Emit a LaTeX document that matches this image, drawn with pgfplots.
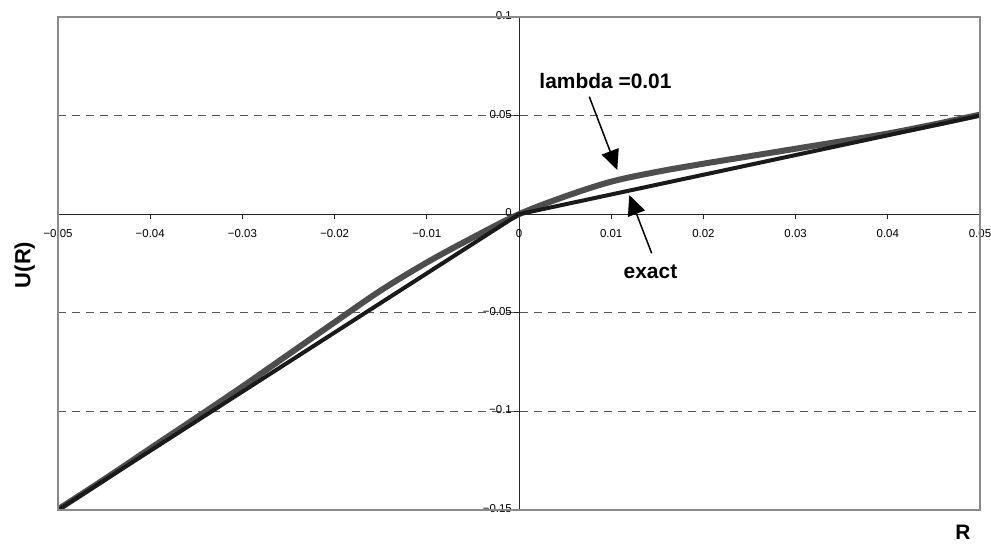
\documentclass[border=0pt]{standalone}
\usepackage{pgfplots}
\pgfplotsset{compat=1.18}
\usepackage{fontspec}
\setmainfont{Liberation Sans}
\usetikzlibrary{arrows.meta}
\definecolor{lamgray}{HTML}{4E4E4E}
\definecolor{exactblack}{HTML}{1A1A1A}
\definecolor{framegray}{HTML}{8A8A8A}
\begin{document}
\begin{tikzpicture}
\path[use as bounding box] (0,0) rectangle (991bp,544bp);
\begin{axis}[
  at={(58bp,34bp)}, anchor=south west,
  width=922bp, height=493bp, scale only axis,
  xmin=-0.05, xmax=0.05, ymin=-0.15, ymax=0.1,
  clip mode=individual,
  axis lines=middle,
  axis line style={black!85, line width=0.9bp, -},
  scaled x ticks=false, scaled y ticks=false,
  xtick={-0.05,-0.04,-0.03,-0.02,-0.01,0,0.01,0.02,0.03,0.04,0.05},
  xticklabels={−0.05,−0.04,−0.03,−0.02,−0.01,0,0.01,0.02,0.03,0.04,0.05},
  ytick={-0.1,-0.05,0,0.05},
  yticklabels={−0.1,−0.05,0,0.05},
  extra y ticks={-0.15,0.1},
  extra y tick labels={−0.15,0.1},
  extra y tick style={grid=none},
  tick style={black!85, line width=0.9bp},
  major tick length=5bp,
  tick align=outside,
  hide obscured x ticks=false, hide obscured y ticks=false,
  ymajorgrids,
  grid style={black!65, line width=0.8bp, dash pattern=on 8bp off 6bp},
  ticklabel style={font=\fontsize{11.5}{12}\selectfont, inner sep=0pt},
  xticklabel style={anchor=north, yshift=-10bp},
  yticklabel style={anchor=east, xshift=-2bp, yshift=1.5bp},
]
\addplot[lamgray, line width=6bp, line join=round, smooth, tension=0.55] coordinates {
(-0.05,-0.1497) (-0.045,-0.1345) (-0.04,-0.1188) (-0.035,-0.1032)
(-0.03,-0.0874) (-0.025,-0.0711) (-0.02,-0.0548) (-0.015,-0.0387)
(-0.01,-0.0245) (-0.005,-0.0118) (0,0) (0.005,0.0090) (0.01,0.0165)
(0.015,0.0215) (0.02,0.0256) (0.025,0.0294) (0.03,0.0332)
(0.035,0.0370) (0.04,0.0409) (0.045,0.0455) (0.05,0.0505)};
\addplot[exactblack, line width=4bp, line join=round] coordinates {
(-0.05,-0.15) (-0.04,-0.12) (-0.03,-0.09) (-0.02,-0.06) (-0.01,-0.03)
(0,0) (0.01,0.01) (0.02,0.02) (0.03,0.03) (0.04,0.04) (0.05,0.05)};
\draw[framegray, line width=2bp] (rel axis cs:0,0) rectangle (rel axis cs:1,1);
\node[font=\fontsize{21}{24}\selectfont\bfseries, anchor=base, inner sep=0pt]
  at (axis cs:0.00938,0.0638) {lambda =0.01};
\draw[black, line width=1.5bp, -{Triangle[length=20bp,width=18bp]}]
  (axis cs:0.00762,0.0596) -- (axis cs:0.01066,0.0224);
\node[font=\fontsize{21}{24}\selectfont\bfseries, anchor=base, inner sep=0pt]
  at (axis cs:0.01426,-0.0325) {exact};
\draw[black, line width=1.5bp, -{Triangle[length=20bp,width=18bp]}]
  (axis cs:0.01439,-0.0198) -- (axis cs:0.01196,0.0097);
\node[rotate=90, font=\fontsize{22}{24}\selectfont\bfseries, inner sep=0pt]
  at (rel axis cs:-0.036,0.497) {U(R)};
\node[font=\fontsize{21}{24}\selectfont\bfseries, inner sep=0pt]
  at (rel axis cs:0.9816,-0.046) {R};
\end{axis}
\end{tikzpicture}
\end{document}
